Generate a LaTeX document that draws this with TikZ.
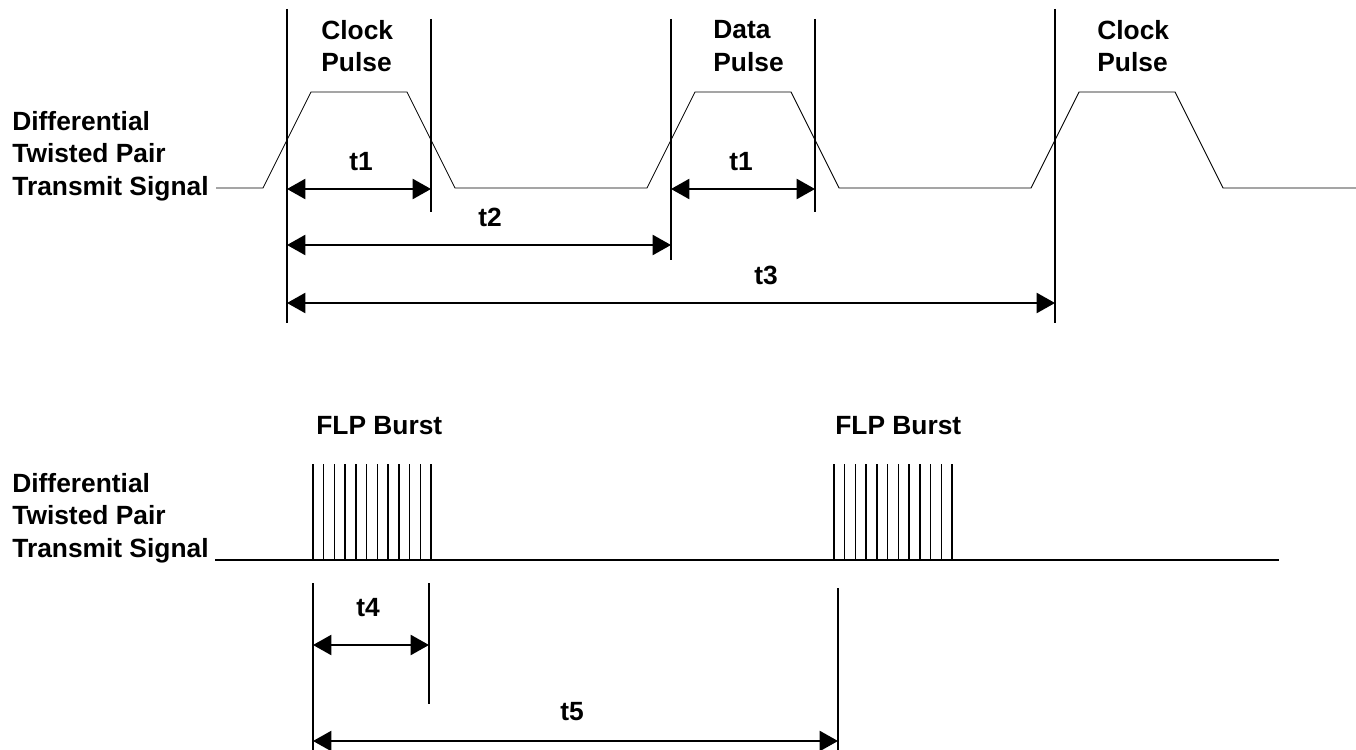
\documentclass[tikz,border=0pt]{standalone}
\usepackage{fontspec}
\setmainfont{Liberation Sans}
\usetikzlibrary{arrows.meta,positioning}

\begin{document}
\begin{tikzpicture}[x=0.02cm,y=-0.02cm,>={Triangle[length=10.5pt,width=11.5pt]},
  lbl/.style={font=\bfseries\fontsize{15}{18.5}\selectfont,inner sep=0pt},
  wave/.style={line width=0.5pt},
  guide/.style={line width=0.8pt},
  dimline/.style={<->,line width=1.1pt}]
\useasboundingbox (0,0) rectangle (1356,750);
% senal con pulsos de reloj y de datos
\node[lbl,anchor=west,align=left] (sigA) at (12,156) {Differential\\Twisted Pair\\Transmit Signal};
\draw[wave] (216,188) \foreach \s in {0,384,768} { -- (263+\s,188) -- (311+\s,92) -- (407+\s,92) -- (455+\s,188) } -- (1356,188);
\node[lbl,anchor=west,align=left] (clkA) at (321,46) {Clock\\Pulse};
\node[lbl,anchor=west,align=left] (datA) at (713,46) {Data\\Pulse};
\node[lbl,anchor=west,align=left] (clkB) at (1097,46) {Clock\\Pulse};
\draw[guide] (287,9) -- (287,323);
\draw[guide] (431,19) -- (431,212);
\draw[guide] (671,19) -- (671,260);
\draw[guide] (815,19) -- (815,212);
\draw[guide] (1055,9) -- (1055,323);
\coordinate (a1) at (287,189); \coordinate (a2) at (431,189);
\coordinate (b1) at (671,189); \coordinate (b2) at (815,189);
\coordinate (c1) at (287,245); \coordinate (c2) at (671,245);
\coordinate (d1) at (287,303); \coordinate (d2) at (1055,303);
\draw[dimline] (a1) -- (a2); \draw[dimline] (b1) -- (b2);
\draw[dimline] (c1) -- (c2); \draw[dimline] (d1) -- (d2);
\node[lbl] (t1a) at (361,162) {t1};
\node[lbl] (t1b) at (741,162) {t1};
\node[lbl] (t2) at (490,217) {t2};
\node[lbl] (t3) at (766,275) {t3};
% senal con rafagas FLP
\node[lbl,anchor=west,align=left] (sigB) at (12,518) {Differential\\Twisted Pair\\Transmit Signal};
\draw[line width=1.1pt] (215,560) -- (1279,560);
\foreach \b in {313,834} {
  \foreach \k in {0,...,11} \draw[guide] (\b+\k*10.73,464) -- (\b+\k*10.73,560);
}
\node[lbl,anchor=west] (flpA) at (316,426) {FLP Burst};
\node[lbl,anchor=west] (flpB) at (835,426) {FLP Burst};
\draw[guide] (313,583) -- (313,750);
\draw[guide] (429,583) -- (429,704);
\draw[guide] (838,588) -- (838,750);
\coordinate (e1) at (313,645); \coordinate (e2) at (429,645);
\coordinate (f1) at (313,741); \coordinate (f2) at (838,741);
\draw[dimline] (e1) -- (e2); \draw[dimline] (f1) -- (f2);
\node[lbl] (t4) at (368,608) {t4};
\node[lbl] (t5) at (572,712) {t5};
\end{tikzpicture}
\end{document}
